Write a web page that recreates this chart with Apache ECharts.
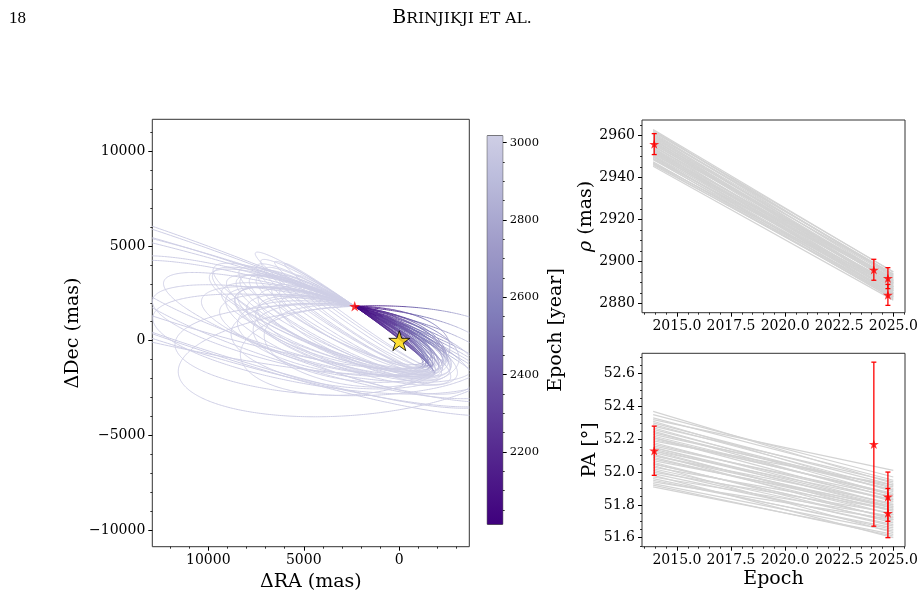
<!DOCTYPE html>
<html><head><meta charset="utf-8">
<script src="https://cdn.jsdelivr.net/npm/echarts@6/dist/echarts.min.js"></script>
<style>html,body{margin:0;padding:0;background:#fff}#c{width:924px;height:608px}</style>
</head><body><div id="c"></div>
<script>
// ---------------- DATA ----------------
// observations (epoch, separation rho [mas], position angle [deg])
const obsEpoch = [2013.95, 2024.1, 2024.75, 2024.75];
const obsRho = [2956, 2896, 2892, 2884];
const obsRhoErr = [5, 5, 5, 5];
const obsPA = [52.13, 52.17, 51.85, 51.75];
const obsPAErr = [0.15, 0.5, 0.15, 0.15];

// model predictions (grey lines) at the two plotted epochs
const modelEpochs = [2013.9, 2025.0];
const rhoStart = [2963.0,2962.1,2961.4,2960.8,2960.1,2959.6,2958.9,2958.2,2957.8,2957.1,2956.5,2956.0,2955.3,2954.9,2954.2,2953.6,2953.1,2952.4,2951.9,2951.2,2950.6,2950.0,2949.2,2948.5,2947.6,2946.8,2946.0,2945.4,2961.9,2959.3,2957.3,2955.8,2954.0,2952.8,2951.5,2950.3,2948.9,2947.2,2960.4,2958.6,2956.8,2953.9,2952.0,2949.8,2962.6,2955.0,2949.0,2958.0,2952.6,2946.5];
const rhoEnd = [2894.8,2893.1,2891.2,2894.0,2889.6,2892.4,2890.3,2888.1,2893.5,2891.0,2887.2,2889.9,2886.1,2892.0,2888.4,2885.3,2890.7,2887.0,2884.6,2889.1,2886.3,2883.2,2887.8,2885.0,2882.4,2886.6,2883.9,2881.5,2895.0,2890.9,2887.9,2891.6,2884.2,2888.9,2885.8,2882.9,2888.0,2884.5,2893.8,2886.9,2890.0,2883.6,2889.4,2884.9,2892.8,2887.5,2882.0,2889.8,2886.0,2883.0];
const paStart = [52.37,52.33,52.31,52.29,52.27,52.25,52.23,52.21,52.20,52.18,52.16,52.15,52.13,52.12,52.10,52.09,52.07,52.05,52.03,52.02,52.00,51.99,51.97,51.95,51.93,51.91,52.32,52.28,52.24,52.19,52.14,52.11,52.06,52.01,51.98,51.96,52.22,52.17,52.08,52.04,52.26,52.13,51.94,52.10,52.35,52.15,51.92,52.21,52.05,52.30];
const paEnd = [51.93,51.95,51.88,51.90,51.86,51.84,51.91,51.82,51.87,51.80,51.85,51.78,51.83,51.76,51.81,51.74,51.79,51.72,51.77,51.70,51.75,51.68,51.73,51.66,51.64,51.62,52.01,51.94,51.89,51.92,51.79,51.71,51.69,51.67,51.60,51.65,51.86,51.83,51.77,51.63,51.89,51.74,51.71,51.78,51.97,51.80,51.61,51.86,51.72,51.92];

// orbit sample: projected apastron position [mas], eccentricity, eccentric anomaly at first epoch [deg]
const orbApRA  = [7000,8000,6500,7500,9000,6000,8500,5500,7200,6800,9500,6200,7800,5800,8800,6600,7400,5200,8200,6900,10500,12000,14000,11000,30000,25000,22000,28000,26000,4500,4800,4200,7600,6300,9200,5600,8600,7100,6000,9800,5400,8000,6700,7300,8000,7000,9000,6500,9000,12500];
const orbApDec = [500,1500,1000,2000,800,2500,2200,1500,-300,1800,2600,2400,1200,2600,1700,500,2300,2800,300,2300,-1500,1000,3000,-500,6000,5000,5500,7000,6000,2500,2900,1800,900,2000,2500,800,2300,1400,3000,1200,2200,-800,2500,600,-1500,0,-3500,-800,500,1500];
const orbEcc   = [0.60,0.70,0.65,0.72,0.62,0.80,0.75,0.70,0.58,0.78,0.80,0.85,0.68,0.88,0.66,0.55,0.82,0.85,0.60,0.76,0.50,0.60,0.75,0.55,0.90,0.80,0.88,0.85,0.82,0.75,0.85,0.70,0.64,0.74,0.84,0.60,0.78,0.70,0.90,0.66,0.78,0.55,0.86,0.62,0.55,0.60,0.45,0.55,0.55,0.65];
const orbE0    = [300,305,308,312,302,315,310,305,298,316,312,320,296,322,306,303,318,318,296,308,310,312,318,318,330,335,325,338,338,305,315,300,311,300,316,300,320,318,324,308,310,305,314,314,295,320,318,298,326,326];

const primaryPos = [0, 0];
const epochRange = [2012.4, 3018];

// axis ranges and tick labels
const raRange = [-3665, 12930];
const decRange = [-10865, 11677];
const raTicks = [0, 5000, 10000];
const decTicks = [-10000, -5000, 0, 5000, 10000];
const cbTicks = [2200, 2400, 2600, 2800, 3000];
const epochAxisRange = [2013.385, 2025.54];
const epochTicks = [2015.0, 2017.5, 2020.0, 2022.5, 2025.0];
const rhoRange = [2875.5, 2967.5];
const rhoTicks = [2880, 2900, 2920, 2940, 2960];
const paRange = [51.545, 52.724];
const paTicks = [51.6, 51.8, 52.0, 52.2, 52.4, 52.6];

// ---------------- HELPERS ----------------
const FONT = 'DejaVu Serif';
const D2R = Math.PI / 180;
const PURPLES = ['#fcfbfd','#efedf5','#dadaeb','#bcbddc','#9e9ac8','#807dba','#6a51a3','#54278f','#3f007d'];
function hex2rgb(h){return [parseInt(h.slice(1,3),16),parseInt(h.slice(3,5),16),parseInt(h.slice(5,7),16)];}
function purples(x){
  const p = Math.max(0, Math.min(1, x)) * (PURPLES.length - 1);
  const i = Math.min(PURPLES.length - 2, Math.floor(p)), t = p - i;
  const a = hex2rgb(PURPLES[i]), b = hex2rgb(PURPLES[i+1]);
  return 'rgb(' + [0,1,2].map(k => Math.round(a[k] + (b[k]-a[k])*t)).join(',') + ')';
}
function cmap(f){ f = Math.max(0, Math.min(1, f)); return purples(1 - 0.7 * f); }
function minorValues(range, step, majors){
  const out = [];
  const start = Math.ceil(range[0] / step - 1e-9);
  for (let k = start; k * step <= range[1] + 1e-9; k++) {
    const v = +(k * step).toFixed(6);
    if (!majors.some(m => Math.abs(m - v) < step * 1e-3)) out.push(v);
  }
  return out;
}
const fmtSigned = v => v < 0 ? '\u2212' + (-v) : String(v);

// Liang-Barsky clipping of a segment to the plotted data window
function clipSeg(p, q) {
  let t0 = 0, t1 = 1;
  const dx = q[0] - p[0], dy = q[1] - p[1];
  const P = [-dx, dx, -dy, dy];
  const Q = [p[0] - raRange[0], raRange[1] - p[0], p[1] - decRange[0], decRange[1] - p[1]];
  for (let k = 0; k < 4; k++) {
    if (P[k] === 0) { if (Q[k] < 0) return null; continue; }
    const r = Q[k] / P[k];
    if (P[k] < 0) { if (r > t1) return null; if (r > t0) t0 = r; }
    else { if (r < t0) return null; if (r < t1) t1 = r; }
  }
  return { t0, t1, p: [p[0] + t0 * dx, p[1] + t0 * dy], q: [p[0] + t1 * dx, p[1] + t1 * dy] };
}
function clipPolyline(pts) {
  const out = []; let cur = null;
  for (let k = 0; k < pts.length - 1; k++) {
    const c = clipSeg(pts[k], pts[k + 1]);
    if (!c) { cur = null; continue; }
    if (cur && c.t0 === 0) cur.push(c.q); else { cur = [c.p, c.q]; out.push(cur); }
    if (c.t1 < 1) cur = null;
  }
  return out;
}

// ---------------- ORBITS (Keplerian, projected on the sky) ----------------
const S = [obsRho[0] * Math.sin(obsPA[0] * D2R), obsRho[0] * Math.cos(obsPA[0] * D2R)];
const orbitChunks = [];
const NS = 480, CH = 6;
for (let i = 0; i < orbApRA.length; i++) {
  const e = orbEcc[i], E0 = orbE0[i] * D2R;
  const a1 = [-orbApRA[i] / (1 + e), -orbApDec[i] / (1 + e)];
  const c0 = Math.cos(E0), s0 = Math.sin(E0);
  const b1 = [(S[0] - a1[0] * (c0 - e)) / s0, (S[1] - a1[1] * (c0 - e)) / s0];
  const pos = E => [a1[0] * (Math.cos(E) - e) + b1[0] * Math.sin(E), a1[1] * (Math.cos(E) - e) + b1[1] * Math.sin(E)];
  const dE = [-a1[0] * s0 + b1[0] * c0, -a1[1] * s0 + b1[1] * c0];
  const dt = modelEpochs[1] - modelEpochs[0];
  const rhoDot = (rhoEnd[i] - rhoStart[i]) / dt;
  const paDot = (paEnd[i] - paStart[i]) / dt * D2R;
  const speed = Math.hypot(rhoDot, rhoStart[i] * paDot);
  const n = speed * (1 - e * c0) / Math.hypot(dE[0], dE[1]);
  const M0 = E0 - e * s0;
  const pts = [], ts = [];
  for (let k = 0; k <= NS; k++) {
    const E = E0 + 2 * Math.PI * k / NS;
    pts.push(pos(E));
    ts.push(modelEpochs[0] + (E - e * Math.sin(E) - M0) / n);
  }
  for (let k = 0; k < NS; k += CH) {
    const pieces = clipPolyline(pts.slice(k, Math.min(NS, k + CH) + 1));
    if (!pieces.length) continue;
    const tm = ts[Math.min(NS, k + CH / 2)];
    const f = (tm - epochRange[0]) / (epochRange[1] - epochRange[0]);
    orbitChunks.push({ pieces, color: cmap(f) });
  }
}

// ---------------- CHART ----------------
const STAR = 'path://M0 -1 L0.2245 -0.309 L0.951 -0.309 L0.363 0.118 L0.588 0.809 L0 0.382 L-0.588 0.809 L-0.363 0.118 L-0.951 -0.309 L-0.2245 -0.309 Z';
const TICKCOL = '#000';
const labelStyle = (size) => ({ fontFamily: FONT, fontSize: size, color: '#000' });
const nameStyle = { fontFamily: FONT, fontSize: 19, color: '#000' };

function majorAxis(o) {
  return Object.assign({
    type: 'value', scale: true,
    axisLine: { show: false, onZero: false },
    splitLine: { show: false },
    axisTick: { show: true, inside: false, length: 4, lineStyle: { color: TICKCOL, width: 1 }, customValues: o.ticks },
    axisLabel: { show: true, customValues: o.ticks, margin: 7, formatter: o.fmt || (v => String(v)), ...labelStyle(o.fs || 14) },
    nameTextStyle: nameStyle
  }, o.extra);
}
function minorAxis(o) {
  return Object.assign({
    type: 'value', scale: true,
    axisLine: { show: false, onZero: false },
    splitLine: { show: false },
    axisTick: { show: true, inside: false, length: 2, lineStyle: { color: TICKCOL, width: 0.8 }, customValues: o.ticks },
    axisLabel: { show: false }
  }, o.extra);
}

const gridBase = { show: true, borderColor: '#333', borderWidth: 1, backgroundColor: 'transparent', containLabel: false, outerBoundsMode: 'none' };

const errRender = (params, api) => {
  const x = api.value(0), y = api.value(1), er = api.value(2);
  const t = api.coord([x, y + er]), b = api.coord([x, y - er]);
  const w = 2.5, st = { stroke: '#ff0000', lineWidth: 1.3 };
  return { type: 'group', children: [
    { type: 'line', shape: { x1: t[0], y1: t[1], x2: b[0], y2: b[1] }, style: st },
    { type: 'line', shape: { x1: t[0] - w, y1: t[1], x2: t[0] + w, y2: t[1] }, style: st },
    { type: 'line', shape: { x1: b[0] - w, y1: b[1], x2: b[0] + w, y2: b[1] }, style: st }
  ]};
};

const cbStops = [];
for (let k = 0; k <= 20; k++) cbStops.push({ offset: k / 20, color: cmap(k / 20) });

const option = {
  animation: false,
  backgroundColor: '#fff',
  title: [
    { text: '18', left: 4, top: 5, textStyle: { fontFamily: 'Liberation Serif', fontSize: 17, fontWeight: 'normal', color: '#000' } },
    { text: '{a|B}{b|RINJIKJI ET AL.}', left: 'center', top: 4,
      textStyle: { fontWeight: 'normal', rich: {
        a: { fontFamily: 'DejaVu Serif', fontSize: 19, fontWeight: 'normal', color: '#000' },
        b: { fontFamily: 'DejaVu Serif', fontSize: 15.5, fontWeight: 'normal', color: '#000' } } } }
  ],
  grid: [
    Object.assign({ left: 152.3, top: 119.3, width: 317, height: 427.4 }, gridBase),
    Object.assign({ left: 487.3, top: 135.7, width: 15.4, height: 388.6 }, gridBase),
    Object.assign({ left: 642, top: 120, width: 263, height: 192.7 }, gridBase),
    Object.assign({ left: 642, top: 353.3, width: 263, height: 193.4 }, gridBase)
  ],
  xAxis: [
    majorAxis({ ticks: raTicks, fmt: fmtSigned, extra: { gridIndex: 0, position: 'bottom', min: raRange[0], max: raRange[1], inverse: true,
      name: '\u0394RA (mas)', nameLocation: 'middle', nameGap: 23 } }),
    minorAxis({ ticks: minorValues(raRange, 1000, raTicks), extra: { gridIndex: 0, position: 'bottom', min: raRange[0], max: raRange[1], inverse: true } }),
    { type: 'value', gridIndex: 1, min: 0, max: 1, show: false },
    majorAxis({ ticks: epochTicks, fmt: v => v.toFixed(1), extra: { gridIndex: 2, position: 'bottom', min: epochAxisRange[0], max: epochAxisRange[1] } }),
    minorAxis({ ticks: minorValues(epochAxisRange, 0.5, epochTicks), extra: { gridIndex: 2, position: 'bottom', min: epochAxisRange[0], max: epochAxisRange[1] } }),
    majorAxis({ ticks: epochTicks, fmt: v => v.toFixed(1), extra: { gridIndex: 3, position: 'bottom', min: epochAxisRange[0], max: epochAxisRange[1],
      name: 'Epoch', nameLocation: 'middle', nameGap: 23 } }),
    minorAxis({ ticks: minorValues(epochAxisRange, 0.5, epochTicks), extra: { gridIndex: 3, position: 'bottom', min: epochAxisRange[0], max: epochAxisRange[1] } })
  ],
  yAxis: [
    majorAxis({ ticks: decTicks, fmt: fmtSigned, extra: { gridIndex: 0, position: 'left', min: decRange[0], max: decRange[1],
      name: '\u0394Dec (mas)', nameLocation: 'middle', nameGap: 70, nameRotate: 90 } }),
    minorAxis({ ticks: minorValues(decRange, 1000, decTicks), extra: { gridIndex: 0, position: 'left', min: decRange[0], max: decRange[1] } }),
    majorAxis({ ticks: cbTicks, fs: 11.5, extra: { gridIndex: 1, position: 'right', min: epochRange[0], max: epochRange[1],
      name: 'Epoch [year]', nameLocation: 'middle', nameGap: 44, nameRotate: 90 } }),
    minorAxis({ ticks: minorValues(epochRange, 50, cbTicks), extra: { gridIndex: 1, position: 'right', min: epochRange[0], max: epochRange[1] } }),
    majorAxis({ ticks: rhoTicks, extra: { gridIndex: 2, position: 'left', min: rhoRange[0], max: rhoRange[1],
      name: '{i|\u03c1} (mas)', nameLocation: 'middle', nameGap: 39, nameRotate: 90,
      nameTextStyle: Object.assign({ rich: { i: { fontFamily: FONT, fontSize: 19, fontStyle: 'italic', color: '#000' } } }, nameStyle) } }),
    minorAxis({ ticks: minorValues(rhoRange, 5, rhoTicks), extra: { gridIndex: 2, position: 'left', min: rhoRange[0], max: rhoRange[1] } }),
    majorAxis({ ticks: paTicks, fmt: v => v.toFixed(1), extra: { gridIndex: 3, position: 'left', min: paRange[0], max: paRange[1],
      name: 'PA [\u00b0]', nameLocation: 'middle', nameGap: 39, nameRotate: 90 } }),
    minorAxis({ ticks: minorValues(paRange, 0.05, paTicks), extra: { gridIndex: 3, position: 'left', min: paRange[0], max: paRange[1] } })
  ],
  series: [
    { type: 'custom', xAxisIndex: 0, yAxisIndex: 0, clip: true, silent: true,
      renderItem: (params, api) => {
        const ch = orbitChunks[params.dataIndex];
        return { type: 'group', children: ch.pieces.map(pc => ({
          type: 'polyline', shape: { points: pc.map(p => api.coord(p)) },
          style: { stroke: ch.color, lineWidth: 1, fill: null } })) };
      },
      data: orbitChunks.map((c, k) => [c.pieces[0][0][0], c.pieces[0][0][1], k]) },
    { type: 'scatter', xAxisIndex: 0, yAxisIndex: 0, symbol: STAR, symbolKeepAspect: true, symbolSize: 11,
      itemStyle: { color: '#ff0000' }, data: [S], z: 5 },
    { type: 'scatter', xAxisIndex: 0, yAxisIndex: 0, symbol: STAR, symbolKeepAspect: true, symbolSize: 21,
      itemStyle: { color: '#ffd700', borderColor: '#000', borderWidth: 1 }, data: [primaryPos], z: 6 },
    { type: 'custom', xAxisIndex: 2, yAxisIndex: 2, silent: true,
      renderItem: (params, api) => {
        const p0 = api.coord([0, api.value(1)]), p1 = api.coord([1, api.value(2)]);
        return { type: 'rect', shape: { x: p0[0], y: p1[1], width: p1[0] - p0[0], height: p0[1] - p1[1] },
          style: { fill: new echarts.graphic.LinearGradient(0, 1, 0, 0, cbStops) } };
      },
      data: [[0, epochRange[0], epochRange[1]]] },
    { type: 'lines', coordinateSystem: 'cartesian2d', xAxisIndex: 3, yAxisIndex: 4, silent: true,
      lineStyle: { color: '#d3d3d3', width: 1.2, opacity: 1 },
      data: rhoStart.map((r, i) => ({ coords: [[modelEpochs[0], r], [modelEpochs[1], rhoEnd[i]]] })) },
    { type: 'custom', xAxisIndex: 3, yAxisIndex: 4, renderItem: errRender, z: 4,
      data: obsEpoch.map((t, i) => [t, obsRho[i], obsRhoErr[i]]) },
    { type: 'scatter', xAxisIndex: 3, yAxisIndex: 4, symbol: STAR, symbolKeepAspect: true, symbolSize: 10, z: 5,
      itemStyle: { color: '#ff0000' }, data: obsEpoch.map((t, i) => [t, obsRho[i]]) },
    { type: 'lines', coordinateSystem: 'cartesian2d', xAxisIndex: 5, yAxisIndex: 6, silent: true,
      lineStyle: { color: '#d3d3d3', width: 1.2, opacity: 1 },
      data: paStart.map((p, i) => ({ coords: [[modelEpochs[0], p], [modelEpochs[1], paEnd[i]]] })) },
    { type: 'custom', xAxisIndex: 5, yAxisIndex: 6, renderItem: errRender, z: 4,
      data: obsEpoch.map((t, i) => [t, obsPA[i], obsPAErr[i]]) },
    { type: 'scatter', xAxisIndex: 5, yAxisIndex: 6, symbol: STAR, symbolKeepAspect: true, symbolSize: 10, z: 5,
      itemStyle: { color: '#ff0000' }, data: obsEpoch.map((t, i) => [t, obsPA[i]]) }
  ]
};
const chart = echarts.init(document.getElementById('c'), null, { renderer: 'canvas' });
chart.setOption(option);
</script></body></html>
